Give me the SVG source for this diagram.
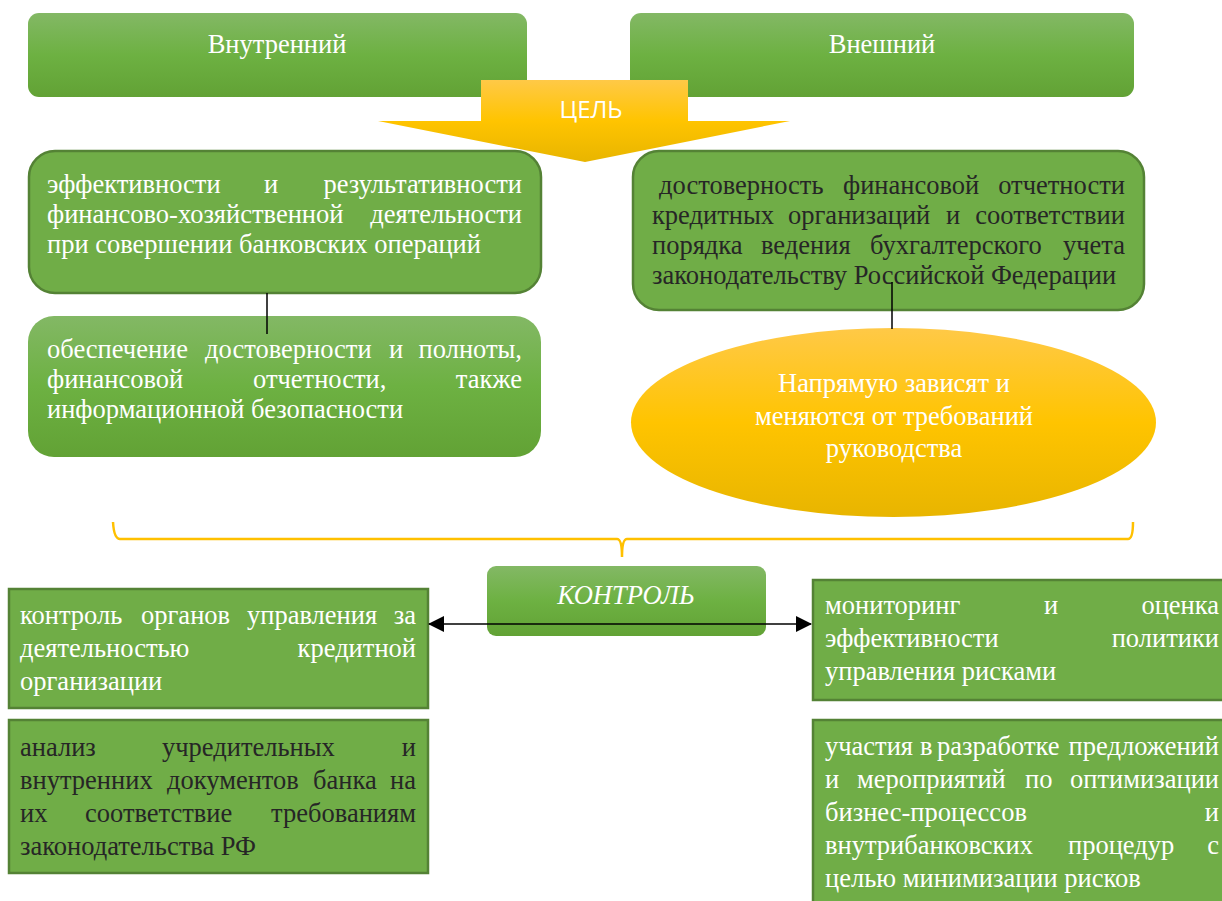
<svg xmlns="http://www.w3.org/2000/svg" width="1222" height="901" viewBox="0 0 1222 901">
<defs>
<linearGradient id="gG" x1="0" y1="0" x2="0" y2="1">
<stop offset="0" stop-color="#83b865"/>
<stop offset="0.5" stop-color="#6db142"/>
<stop offset="1" stop-color="#62a235"/>
</linearGradient>
<linearGradient id="gY" x1="0" y1="0" x2="0" y2="1">
<stop offset="0" stop-color="#ffc947"/>
<stop offset="0.5" stop-color="#ffc400"/>
<stop offset="1" stop-color="#e8b500"/>
</linearGradient>
<marker id="ah" viewBox="0 0 16 16" refX="15" refY="8" markerWidth="16" markerHeight="16" markerUnits="userSpaceOnUse" orient="auto-start-reverse">
<path d="M0,0 L16,8 L0,16 z" fill="#000"/>
</marker>
<style>
.t{font-size:26.5px}
.w{fill:#ffffff}
.d{fill:#262626}
.e{text-anchor:end}
.m{text-anchor:middle}
.box{fill:#70ad47;stroke:#548235;stroke-width:2.5}
.grad{fill:url(#gG)}
.conn{stroke:#000;stroke-width:1.5;fill:none}
</style>
</defs>
<rect width="1222" height="901" fill="#ffffff"/>

<g id="nodes" font-family="Liberation Serif, DejaVu Serif, serif">
<g id="vnutrenniy">
<rect x="28" y="13" width="499" height="84" rx="11" class="grad"/>
<text class="t w m" x="277" y="53">Внутренний</text>
</g>

<g id="vneshniy">
<rect x="630" y="13" width="504" height="84" rx="11" class="grad"/>
<text class="t w m" x="882" y="53">Внешний</text>
</g>

<g id="tsel">
<path d="M481,80 L688,80 L688,121 L790,121 L585,162 L378,121 L481,121 Z" fill="url(#gY)"/>
<text x="591" y="118" text-anchor="middle" font-family="Open Sans, DejaVu Sans, sans-serif" font-size="24" fill="#ffffff">ЦЕЛЬ</text>
</g>

<g id="effektivnost">
<rect x="29" y="151" width="512" height="142" rx="26" class="box"/>
<text class="t w" x="47" y="193">эффективности</text>
<text class="t w" x="264" y="193">и</text>
<text class="t w e" x="522" y="193">результативности</text>
<text class="t w" x="47" y="223">финансово-хозяйственной</text>
<text class="t w e" x="522" y="223">деятельности</text>
<text class="t w" x="47" y="253">при совершении банковских операций</text>
</g>

<g id="obespechenie">
<rect x="28" y="316" width="513" height="141" rx="26" class="grad"/>
<text class="t w" x="47" y="358">обеспечение</text>
<text class="t w" x="205" y="358">достоверности</text>
<text class="t w" x="389" y="358">и</text>
<text class="t w e" x="522" y="358">полноты,</text>
<text class="t w" x="47" y="388">финансовой</text>
<text class="t w" x="253" y="388">отчетности,</text>
<text class="t w e" x="522" y="388">также</text>
<text class="t w" x="47" y="418">информационной безопасности</text>
</g>

<g id="dostovernost">
<rect x="633" y="151" width="511" height="159" rx="26" class="box"/>
<text class="t d" x="659" y="194">достоверность</text>
<text class="t d" x="843" y="194">финансовой</text>
<text class="t d e" x="1125" y="194">отчетности</text>
<text class="t d" x="652" y="224">кредитных</text>
<text class="t d" x="788" y="224">организаций</text>
<text class="t d" x="946" y="224">и</text>
<text class="t d e" x="1125" y="224">соответствии</text>
<text class="t d" x="652" y="254">порядка</text>
<text class="t d" x="761" y="254">ведения</text>
<text class="t d" x="870" y="254">бухгалтерского</text>
<text class="t d e" x="1125" y="254">учета</text>
<text class="t d" x="652" y="284">законодательству Российской Федерации</text>
</g>

<g id="napryamuyu">
<ellipse cx="893.5" cy="422.5" rx="262.5" ry="94.5" fill="url(#gY)"/>
<text class="t w m" x="894" y="392">Напрямую зависят и</text>
<text class="t w m" x="894" y="425">меняются от требований</text>
<text class="t w m" x="894" y="457">руководства</text>
</g>

<g id="kontrol">
<rect x="487" y="566" width="279" height="70" rx="9" class="grad"/>
<text class="t w m" x="626" y="604" font-style="italic">КОНТРОЛЬ</text>
</g>

<g id="kontrol-organov">
<rect x="9" y="589" width="419" height="119" class="box"/>
<text class="t w" x="20" y="624">контроль</text>
<text class="t w" x="141" y="624">органов</text>
<text class="t w" x="247" y="624">управления</text>
<text class="t w e" x="416" y="624">за</text>
<text class="t w" x="20" y="657">деятельностью</text>
<text class="t w e" x="416" y="657">кредитной</text>
<text class="t w" x="20" y="690">организации</text>
</g>

<g id="analiz">
<rect x="9" y="720" width="419" height="153" class="box"/>
<text class="t d" x="20" y="756">анализ</text>
<text class="t d" x="162" y="756">учредительных</text>
<text class="t d e" x="416" y="756">и</text>
<text class="t d" x="20" y="789">внутренних</text>
<text class="t d" x="167" y="789">документов</text>
<text class="t d" x="313" y="789">банка</text>
<text class="t d e" x="416" y="789">на</text>
<text class="t d" x="20" y="822">их</text>
<text class="t d" x="85" y="822">соответствие</text>
<text class="t d e" x="416" y="822">требованиям</text>
<text class="t d" x="20" y="855">законодательства РФ</text>
</g>

<g id="monitoring">
<rect x="813" y="580" width="420" height="120" class="box"/>
<text class="t w" x="825" y="614">мониторинг</text>
<text class="t w" x="1044" y="614">и</text>
<text class="t w e" x="1219" y="614">оценка</text>
<text class="t w" x="825" y="647">эффективности</text>
<text class="t w e" x="1219" y="647">политики</text>
<text class="t w" x="825" y="680">управления рисками</text>
</g>

<g id="uchastiya">
<rect x="813" y="720" width="420" height="200" class="box"/>
<text class="t w" x="825" y="755">участия</text>
<text class="t w" x="920" y="755">в</text>
<text class="t w" x="937" y="755">разработке</text>
<text class="t w e" x="1219" y="755">предложений</text>
<text class="t w" x="825" y="788">и</text>
<text class="t w" x="857" y="788">мероприятий</text>
<text class="t w" x="1025" y="788">по</text>
<text class="t w e" x="1219" y="788">оптимизации</text>
<text class="t w" x="825" y="821">бизнес-процессов</text>
<text class="t w e" x="1219" y="821">и</text>
<text class="t w" x="825" y="854">внутрибанковских</text>
<text class="t w" x="1068" y="854">процедур</text>
<text class="t w e" x="1219" y="854">с</text>
<text class="t w" x="825" y="887">целью минимизации рисков</text>
</g>
</g>

<g id="connectors">
<line x1="267" y1="293" x2="267" y2="334" class="conn"/>
<line x1="892" y1="282" x2="892" y2="329" class="conn"/>
<path d="M113,522 Q114,539 120,539 L617,539 Q622,539 622,557 Q622,539 627,539 L1128,539 Q1133,539 1133,522" fill="none" stroke="#ffc000" stroke-width="2.5"/>
<line x1="429" y1="624" x2="811" y2="624" class="conn" marker-start="url(#ah)" marker-end="url(#ah)"/>
</g>
</svg>
